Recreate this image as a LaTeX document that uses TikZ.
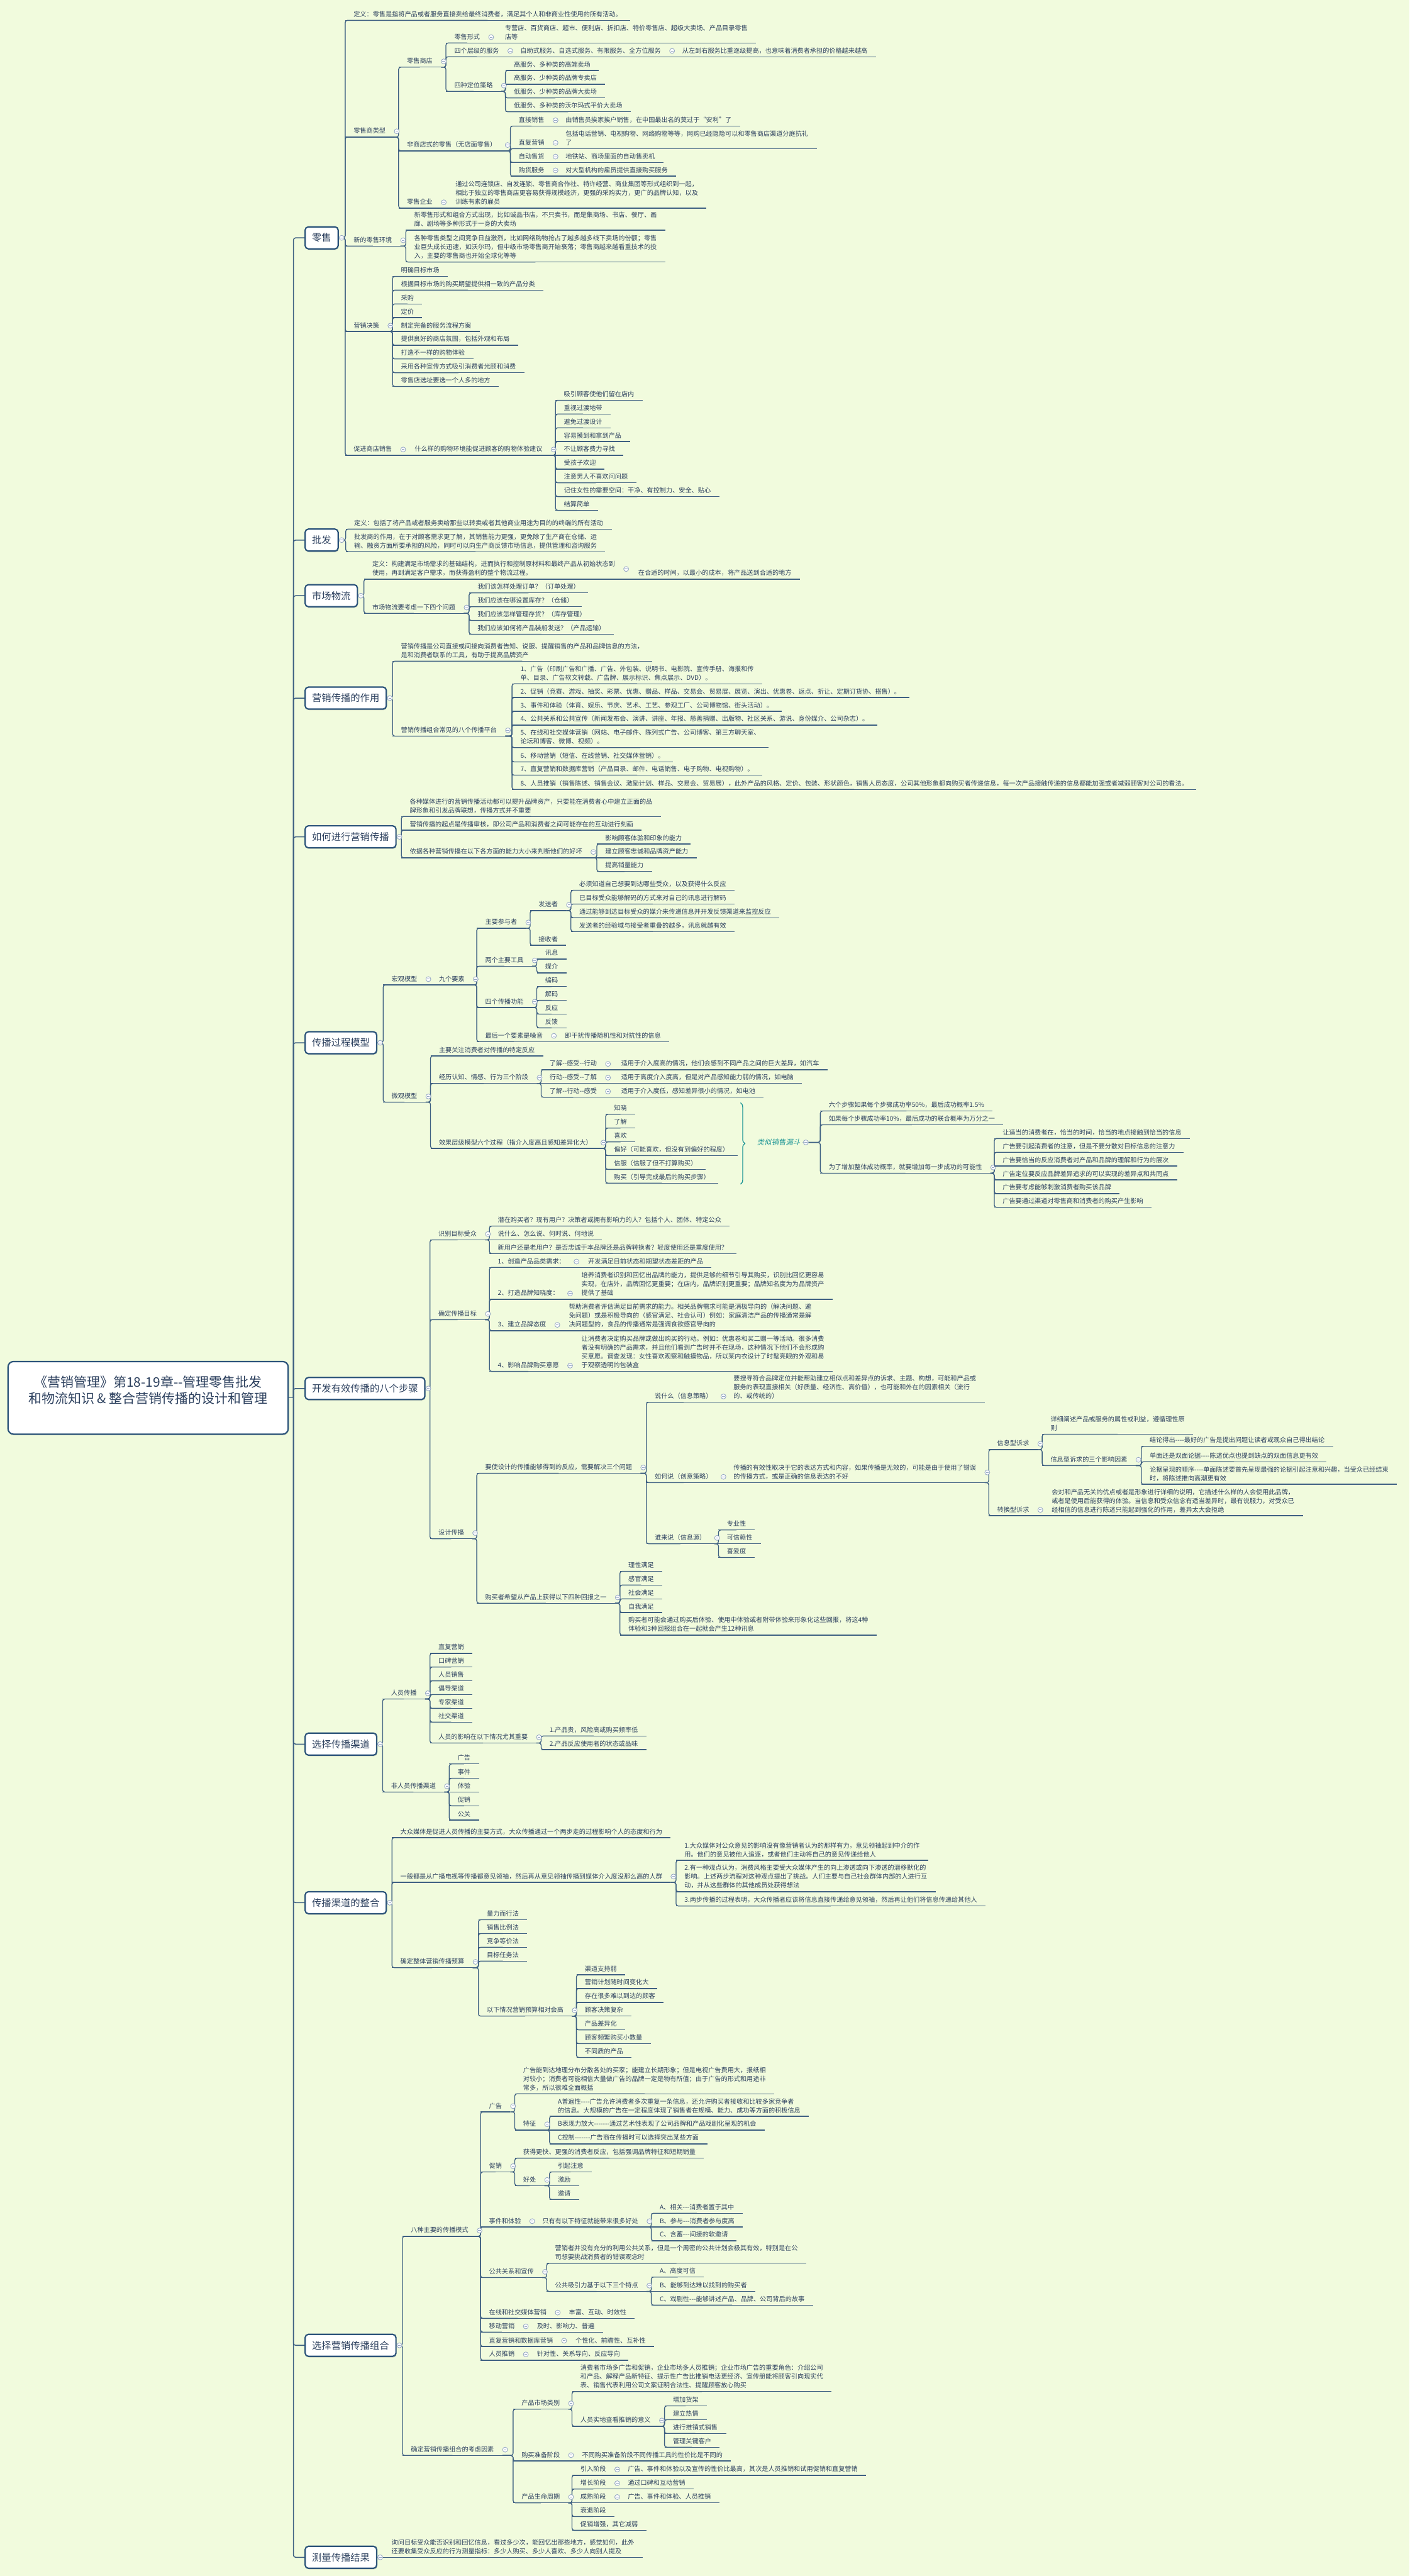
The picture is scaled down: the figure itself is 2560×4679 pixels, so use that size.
\documentclass[tikz,border=0pt]{standalone}
\usepackage{fontspec}
\usepackage{tikz}
\usetikzlibrary{backgrounds,decorations.pathreplacing,shadows}
\newfontfamily\cjk{Noto Sans CJK SC}
\newfontfamily\cjkslant{Noto Sans CJK SC}[FakeSlant=0.2]
\newcommand\itemfont{\cjk\fontsize{6.6pt}{9.1pt}\selectfont}
\newcommand\boxfont{\cjk\fontsize{9.96pt}{12pt}\selectfont}
\newcommand\rootfont{\cjk\fontsize{13.66pt}{17.07pt}\selectfont}
\newcommand\fnlfont{\cjkslant\fontsize{7.4pt}{9pt}\selectfont}
\definecolor{MapBg}{RGB}{241,251,221}
\definecolor{MapInk}{RGB}{45,65,95}
\definecolor{MapLine}{RGB}{62,96,130}
\definecolor{MapBox}{RGB}{44,84,122}
\definecolor{MapIcon}{RGB}{150,168,196}
\definecolor{MapTeal}{RGB}{30,150,150}

\begin{document}
\begin{tikzpicture}[x=0.02cm,y=-0.02cm,
    ul/.style={draw=MapLine,line width=0.03cm},
    item/.style={anchor=south west,inner xsep=0.3cm,inner ysep=0.08cm,text depth=0.05cm,font=\itemfont,text=MapInk,align=left,
      append after command={(\tikzlastnode.south west) edge[ul] (\tikzlastnode.south east)}},
    dot/.style={circle,draw=MapIcon,fill=white,line width=0.02cm,inner sep=0pt,minimum size=0.18cm,
      path picture={\draw[MapIcon,line width=0.02cm] ([xshift=0.04cm]path picture bounding box.west) -- ([xshift=-0.04cm]path picture bounding box.east);}},
    hub/.style={item,label distance=-0.1cm,label={[dot]0:{}}},
    box/.style={anchor=west,draw=MapBox,line width=0.05cm,fill=white,rounded corners=0.12cm,font=\boxfont,text=MapInk,inner xsep=0.25cm,minimum height=0.8cm,
      drop shadow={opacity=0.3,shadow xshift=0.02cm,shadow yshift=-0.04cm},label distance=0.06cm,label={[dot]0:{}}},
    root/.style={draw=MapBox,line width=0.05cm,fill=white,rounded corners=0.2cm,font=\rootfont,text=MapInk,align=center,minimum width=10.18cm,minimum height=2.64cm,
      drop shadow={opacity=0.3,shadow xshift=0.02cm,shadow yshift=-0.04cm}},
    fnl/.style={anchor=west,font=\fnlfont,text=MapTeal,inner xsep=0.1cm,label distance=0.1cm,label={[dot]0:{}}},
    funnel/.style={draw=MapTeal,line width=0.03cm,decorate,decoration={brace,amplitude=0.16cm}},
    link/.style={draw=MapLine,line width=0.03cm,rounded corners=0.08cm,to path={(\tikztostart.south east) -| (\tikztotarget.south west) -- (\tikztotarget.south)}},
    flat/.style={draw=MapLine,line width=0.03cm,to path={(\tikztostart.south east) -- (\tikztotarget.south west)}},
    blink/.style={link,to path={(\tikztostart.east) -| (\tikztotarget.south west) -- (\tikztotarget.south)}},
    bflat/.style={flat,to path={(\tikztostart.east) -- (\tikztotarget.south west)}},
    tk/.style={draw=MapLine,line width=0.035cm,rounded corners=0.08cm,to path={(\tikztostart) |- (\tikztotarget.west)}}
  ]
  \useasboundingbox (0,0) rectangle (2560,4679);
  \begin{scope}[on background layer]
    \fill[MapBg] (0,0) rectangle (2560,4679);
  \end{scope}

  \node[root] (root) at (269,2539) {《营销管理》第18-19章--管理零售批发\\和物流知识 \& 整合营销传播的设计和管理\\\mbox{}};
  \coordinate (trunk) at (533,2539);

  \node[box] (r) at (553,432) {零售};
  \node[item] (r1) at (627,37) {定义：零售是指将产品或者服务直接卖给最终消费者，满足其个人和非商业性使用的所有活动。};
  \node[hub] (r2) at (627,249) {零售商类型};
  \node[hub] (r3) at (627,447) {新的零售环境};
  \node[hub] (r4) at (627,602) {营销决策};
  \node[hub] (r5) at (627,827) {促进商店销售};
  \node[hub] (r21) at (724,122) {零售商店};
  \node[hub] (r22) at (724,274) {非商店式的零售（无店面零售）};
  \node[hub] (r23) at (724,378) {零售企业};
  \node[hub] (r211) at (810,78) {零售形式};
  \node[hub] (r212) at (810,103) {四个层级的服务};
  \node[hub] (r213) at (810,166) {四种定位策略};
  \node[item] (r2111) at (902,78) {专营店、百货商店、超市、便利店、折扣店、特价零售店、超级大卖场、产品目录零售\\店等};
  \node[hub] (r2121) at (930,103) {自助式服务、自选式服务、有限服务、全方位服务};
  \node[item] (r2122) at (1224,103) {从左到右服务比重逐级提高，也意味着消费者承担的价格越来越高};
  \node[item] (r2131) at (918,128) {高服务、多种类的高端卖场};
  \node[item] (r2132) at (918,153) {高服务、少种类的品牌专卖店};
  \node[item] (r2133) at (918,178) {低服务、少种类的品牌大卖场};
  \node[item] (r2134) at (918,203) {低服务、多种类的沃尔玛式平价大卖场};
  \node[hub] (r221) at (927,229) {直接销售};
  \node[hub] (r222) at (927,270) {直复营销};
  \node[hub] (r223) at (927,295) {自动售货};
  \node[hub] (r224) at (927,320) {购货服务};
  \node[item] (r2211) at (1012,229) {由销售员挨家挨户销售，在中国最出名的莫过于“安利”了};
  \node[item] (r2221) at (1012,270) {包括电话营销、电视购物、网络购物等等，网购已经隐隐可以和零售商店渠道分庭抗礼\\了};
  \node[item] (r2231) at (1012,295) {地铁站、商场里面的自动售卖机};
  \node[item] (r2241) at (1012,320) {对大型机构的雇员提供直接购买服务};
  \node[item] (r231) at (812,378) {通过公司连锁店、自发连锁、零售商合作社、特许经营、商业集团等形式组织到一起，\\相比于独立的零售商店更容易获得规模经济，更强的采购实力，更广的品牌认知，以及\\训练有素的雇员};
  \node[item] (r31) at (737,418) {新零售形式和组合方式出现，比如诚品书店，不只卖书，而是集商场、书店、餐厅、画\\廊、剧场等多种形式于一身的大卖场};
  \node[item] (r32) at (737,476) {各种零售类型之间竞争日益激烈，比如网络购物抢占了越多越多线下卖场的份额；零售\\业巨头成长迅速，如沃尔玛，但中级市场零售商开始衰落；零售商越来越看重技术的投\\入，主要的零售商也开始全球化等等};
  \node[item] (r41) at (713,502) {明确目标市场};
  \node[item] (r42) at (713,527) {根据目标市场的购买期望提供相一致的产品分类};
  \node[item] (r43) at (713,552) {采购};
  \node[item] (r44) at (713,577) {定价};
  \node[item] (r45) at (713,602) {制定完备的服务流程方案};
  \node[item] (r46) at (713,627) {提供良好的商店氛围，包括外观和布局};
  \node[item] (r47) at (713,652) {打造不一样的购物体验};
  \node[item] (r48) at (713,677) {采用各种宣传方式吸引消费者光顾和消费};
  \node[item] (r49) at (713,702) {零售店选址要选一个人多的地方};
  \node[hub] (r51) at (738,827) {什么样的购物环境能促进顾客的购物体验建议};
  \node[item] (r511) at (1009,727) {吸引顾客使他们留在店内};
  \node[item] (r512) at (1009,752) {重视过渡地带};
  \node[item] (r513) at (1009,777) {避免过渡设计};
  \node[item] (r514) at (1009,802) {容易摸到和拿到产品};
  \node[item] (r515) at (1009,827) {不让顾客费力寻找};
  \node[item] (r516) at (1009,852) {受孩子欢迎};
  \node[item] (r517) at (1009,877) {注意男人不喜欢问问题};
  \node[item] (r518) at (1009,902) {记住女性的需要空间：干净、有控制力、安全、贴心};
  \node[item] (r519) at (1009,927) {结算简单};

  \node[box] (w) at (553,981) {批发};
  \node[item] (w1) at (628,961) {定义：包括了将产品或者服务卖给那些以转卖或者其他商业用途为目的的终端的所有活动};
  \node[item] (w2) at (628,1002) {批发商的作用，在于对顾客需求更了解，其销售能力更强，更免除了生产商在仓储、运\\输、融资方面所要承担的风险，同时可以向生产商反馈市场信息，提供管理和咨询服务};

  \node[box] (m) at (553,1082) {市场物流};
  \node[hub] (m1) at (661,1052) {定义：构建满足市场需求的基础结构，进而执行和控制原材料和最终产品从初始状态到\\使用，再到满足客户需求，而获得盈利的整个物流过程。};
  \node[item] (m11) at (1144,1052) {在合适的时间，以最小的成本，将产品送到合适的地方};
  \node[hub] (m2) at (661,1114) {市场物流要考虑一下四个问题};
  \node[item] (m21) at (852,1077) {我们该怎样处理订单？（订单处理）};
  \node[item] (m22) at (852,1102) {我们应该在哪设置库存？（仓储）};
  \node[item] (m23) at (852,1127) {我们应该怎样管理存货？（库存管理）};
  \node[item] (m24) at (852,1152) {我们应该如何将产品装船发送？（产品运输）};

  \node[box] (e) at (553,1268) {营销传播的作用};
  \node[item] (e1) at (713,1201) {营销传播是公司直接或间接向消费者告知、说服、提醒销售的产品和品牌信息的方法，\\是和消费者联系的工具，有助于提高品牌资产};
  \node[hub] (e2) at (713,1337) {营销传播组合常见的八个传播平台};
  \node[item] (e21) at (930,1242) {1、广告（印刷广告和广播、广告、外包装、说明书、电影院、宣传手册、海报和传\\单、目录、广告软文转载、广告牌、展示标识、焦点展示、DVD）。};
  \node[item] (e22) at (930,1267) {2、促销（竞赛、游戏、抽奖、彩票、优惠、赠品、样品、交易会、贸易展、展览、演出、优惠卷、返点、折让、定期订货协、搭售）。};
  \node[item] (e23) at (930,1292) {3、事件和体验（体育、娱乐、节庆、艺术、工艺、参观工厂、公司博物馆、街头活动）。};
  \node[item] (e24) at (930,1317) {4、公共关系和公共宣传（新闻发布会、演讲、讲座、年报、慈善捐赠、出版物、社区关系、游说、身份媒介、公司杂志）。};
  \node[item] (e25) at (930,1358) {5、在线和社交媒体营销（网站、电子邮件、陈列式广告、公司博客、第三方聊天室、\\论坛和博客、微博、视频）。};
  \node[item] (e26) at (930,1384) {6、移动营销（短信、在线营销、社交媒体营销）。};
  \node[item] (e27) at (930,1408) {7、直复营销和数据库营销（产品目录、邮件、电话销售、电子购物、电视购物）。};
  \node[item] (e28) at (930,1434) {8、人员推销（销售陈述、销售会议、激励计划、样品、交易会、贸易展），此外产品的风格、定价、包装、形状颜色，销售人员态度，公司其他形象都向购买者传递信息，每一次产品接触传递的信息都能加强或者减弱顾客对公司的看法。};

  \node[box] (h) at (553,1520) {如何进行营销传播};
  \node[item] (h1) at (729,1483) {各种媒体进行的营销传播活动都可以提升品牌资产，只要能在消费者心中建立正面的品\\牌形象和引发品牌联想，传播方式并不重要};
  \node[item] (h2) at (729,1508) {营销传播的起点是传播审核，即公司产品和消费者之间可能存在的互动进行刻画};
  \node[hub] (h3) at (729,1558) {依据各种营销传播在以下各方面的能力大小来判断他们的好坏};
  \node[item] (h31) at (1084,1533) {影响顾客体验和印象的能力};
  \node[item] (h32) at (1084,1558) {建立顾客忠诚和品牌资产能力};
  \node[item] (h33) at (1084,1583) {提高销量能力};

  \node[box] (p) at (553,1894) {传播过程模型};
  \node[hub] (p1) at (696,1789) {宏观模型};
  \node[hub] (p11) at (782,1789) {九个要素};
  \node[hub] (p111) at (866,1686) {主要参与者};
  \node[hub] (p1111) at (963,1654) {发送者};
  \node[item] (p11111) at (1037,1617) {必须知道自己想要到达哪些受众，以及获得什么反应};
  \node[item] (p11112) at (1037,1642) {已目标受众能够解码的方式来对自己的讯息进行解码};
  \node[item] (p11113) at (1037,1667) {通过能够到达目标受众的媒介来传递信息并开发反馈渠道来监控反应};
  \node[item] (p11114) at (1037,1692) {发送者的经验域与接受者重叠的越多，讯息就越有效};
  \node[item] (p1112) at (963,1717) {接收者};
  \node[hub] (p112) at (866,1755) {两个主要工具};
  \node[item] (p1121) at (975,1742) {讯息};
  \node[item] (p1122) at (975,1767) {媒介};
  \node[hub] (p113) at (866,1830) {四个传播功能};
  \node[item] (p1131) at (975,1792) {编码};
  \node[item] (p1132) at (975,1817) {解码};
  \node[item] (p1133) at (975,1842) {反应};
  \node[item] (p1134) at (975,1867) {反馈};
  \node[hub] (p114) at (866,1892) {最后一个要素是噪音};
  \node[item] (p1141) at (1011,1892) {即干扰传播随机性和对抗性的信息};
  \node[hub] (p2) at (696,2002) {微观模型};
  \node[item] (p21) at (782,1918) {主要关注消费者对传播的特定反应};
  \node[hub] (p22) at (782,1968) {经历认知、情感、行为三个阶段};
  \node[hub] (p221) at (983,1943) {了解--感受--行动};
  \node[item] (p2211) at (1113,1943) {适用于介入度高的情况，他们会感到不同产品之间的巨大差异，如汽车};
  \node[hub] (p222) at (983,1968) {行动--感受--了解};
  \node[item] (p2221) at (1113,1968) {适用于高度介入度高，但是对产品感知能力弱的情况，如电脑};
  \node[hub] (p223) at (983,1993) {了解--行动--感受};
  \node[item] (p2231) at (1113,1993) {适用于介入度低，感知差异很小的情况，如电池};
  \node[hub] (p23) at (782,2086) {效果层级模型六个过程（指介入度高且感知差异化大）};
  \node[item] (p231) at (1100,2024) {知晓};
  \node[item] (p232) at (1100,2049) {了解};
  \node[item] (p233) at (1100,2074) {喜欢};
  \node[item] (p234) at (1100,2099) {偏好（可能喜欢，但没有到偏好的程度）};
  \node[item] (p235) at (1100,2124) {信服（信服了但不打算购买）};
  \node[item] (p236) at (1100,2149) {购买（引导完成最后的购买步骤）};
  \coordinate (fun1) at (1345,2003);
  \coordinate (fun2) at (1345,2151);
  \draw[funnel] (fun1) -- (fun2);
  \node[fnl] (pf) at (1370,2075) {类似销售漏斗};
  \node[item] (pf1) at (1490,2018) {六个步骤如果每个步骤成功率50\%，最后成功概率1.5\%};
  \node[item] (pf2) at (1490,2043) {如果每个步骤成功率10\%，最后成功的联合概率为万分之一};
  \node[hub] (pf3) at (1490,2131) {为了增加整体成功概率，就要增加每一步成功的可能性};
  \node[item] (pf31) at (1806,2068) {让适当的消费者在，恰当的时间，恰当的地点接触到恰当的信息};
  \node[item] (pf32) at (1806,2093) {广告要引起消费者的注意，但是不要分散对目标信息的注意力};
  \node[item] (pf33) at (1806,2118) {广告要恰当的反应消费者对产品和品牌的理解和行为的层次};
  \node[item] (pf34) at (1806,2143) {广告定位要反应品牌差异追求的可以实现的差异点和共同点};
  \node[item] (pf35) at (1806,2168) {广告要考虑能够刺激消费者购买该品牌};
  \node[item] (pf36) at (1806,2193) {广告要通过渠道对零售商和消费者的购买产生影响};

  \node[box] (d) at (553,2522) {开发有效传播的八个步骤};
  \node[hub] (d1) at (781,2252) {识别目标受众};
  \node[item] (d11) at (889,2227) {潜在购买者？现有用户？决策者或拥有影响力的人？包括个人、团体、特定公众};
  \node[item] (d12) at (889,2252) {说什么、怎么说、何时说、何地说};
  \node[item] (d13) at (889,2277) {新用户还是老用户？是否忠诚于本品牌还是品牌转换者？轻度使用还是重度使用？};
  \node[hub] (d2) at (781,2397) {确定传播目标};
  \node[hub] (d21) at (889,2302) {1、创造产品品类需求：};
  \node[item] (d211) at (1053,2302) {开发满足目前状态和期望状态差距的产品};
  \node[hub] (d22) at (889,2360) {2、打造品牌知晓度：};
  \node[item] (d221) at (1041,2360) {培养消费者识别和回忆出品牌的能力，提供足够的细节引导其购买，识别比回忆更容易\\实现，在店外，品牌回忆更重要；在店内，品牌识别更重要；品牌知名度为为品牌资产\\提供了基础};
  \node[hub] (d23) at (889,2417) {3、建立品牌态度};
  \node[item] (d231) at (1018,2417) {帮助消费者评估满足目前需求的能力。相关品牌需求可能是消极导向的（解决问题、避\\免问题）或是积极导向的（感官满足、社会认可）例如：家庭清洁产品的传播通常是解\\决问题型的，食品的传播通常是强调食欲感官导向的};
  \node[hub] (d24) at (889,2491) {4、影响品牌购买意愿};
  \node[item] (d241) at (1041,2491) {让消费者决定购买品牌或做出购买的行动。例如：优惠卷和买二赠一等活动。很多消费\\者没有明确的产品需求，并且他们看到广告时并不在现场，这种情况下他们不会形成购\\买意愿。调查发现：女性喜欢观察和触摸物品，所以某内衣设计了时髦亮眼的外观和易\\于观察透明的包装盒};
  \node[hub] (d3) at (781,2795) {设计传播};
  \node[hub] (d31) at (866,2676) {要使设计的传播能够得到的反应，需要解决三个问题};
  \node[hub] (d311) at (1174,2547) {说什么（信息策略）};
  \node[item] (d3111) at (1317,2547) {要搜寻符合品牌定位并能帮助建立相似点和差异点的诉求、主题、构想，可能和产品或\\服务的表现直接相关（好质量、经济性、高价值），也可能和外在的因素相关（流行\\的、或传统的）};
  \node[hub] (d312) at (1174,2693) {如何说（创意策略）};
  \node[hub] (d3121) at (1317,2693) {传播的有效性取决于它的表达方式和内容，如果传播是无效的，可能是由于使用了错误\\的传播方式，或是正确的信息表达的不好};
  \node[hub] (d31211) at (1796,2633) {信息型诉求};
  \node[item] (d312111) at (1893,2605) {详细阐述产品或服务的属性或利益，遵循理性原\\则};
  \node[hub] (d312112) at (1893,2662) {信息型诉求的三个影响因素};
  \node[item] (d3121121) at (2073,2627) {结论得出----最好的广告是提出问题让读者或观众自己得出结论};
  \node[item] (d3121122) at (2073,2655) {单面还是双面论据----陈述优点也提到缺点的双面信息更有效};
  \node[item] (d3121123) at (2073,2696) {论据呈现的顺序----单面陈述要首先呈现最强的论据引起注意和兴趣，当受众已经结束\\时，将陈述推向高潮更有效};
  \node[hub] (d31212) at (1796,2753) {转换型诉求};
  \node[item] (d312121) at (1895,2753) {会对和产品无关的优点或者是形象进行详细的说明，它描述什么样的人会使用此品牌，\\或者是使用后能获得的体验。当信息和受众信念有适当差异时，最有说服力，对受众已\\经相信的信息进行陈述只能起到强化的作用，差异太大会拒绝};
  \node[hub] (d313) at (1174,2804) {谁来说（信息源）};
  \node[item] (d3131) at (1305,2779) {专业性};
  \node[item] (d3132) at (1305,2804) {可信赖性};
  \node[item] (d3133) at (1305,2829) {喜爱度};
  \node[hub] (d32) at (866,2912) {购买者希望从产品上获得以下四种回报之一};
  \node[item] (d321) at (1126,2854) {理性满足};
  \node[item] (d322) at (1126,2879) {感官满足};
  \node[item] (d323) at (1126,2904) {社会满足};
  \node[item] (d324) at (1126,2929) {自我满足};
  \node[item] (d325) at (1126,2970) {购买者可能会通过购买后体验、使用中体验或者附带体验来形象化这些回报，将这4种\\体验和3种回报组合在一起就会产生12种讯息};

  \node[box] (c) at (553,3168) {选择传播渠道};
  \node[hub] (c1) at (695,3086) {人员传播};
  \node[item] (c11) at (781,3003) {直复营销};
  \node[item] (c12) at (781,3028) {口碑营销};
  \node[item] (c13) at (781,3053) {人员销售};
  \node[item] (c14) at (781,3078) {倡导渠道};
  \node[item] (c15) at (781,3103) {专家渠道};
  \node[item] (c16) at (781,3128) {社交渠道};
  \node[hub] (c17) at (781,3166) {人员的影响在以下情况尤其重要};
  \node[item] (c171) at (983,3153) {1.产品贵，风险高或购买频率低};
  \node[item] (c172) at (983,3178) {2.产品反应使用者的状态或品味};
  \node[hub] (c2) at (695,3255) {非人员传播渠道};
  \node[item] (c21) at (816,3204) {广告};
  \node[item] (c22) at (816,3230) {事件};
  \node[item] (c23) at (816,3255) {体验};
  \node[item] (c24) at (816,3280) {促销};
  \node[item] (c25) at (816,3306) {公关};

  \node[box] (g) at (553,3456) {传播渠道的整合};
  \node[item] (g1) at (712,3338) {大众媒体是促进人员传播的主要方式，大众传播通过一个两步走的过程影响个人的态度和行为};
  \node[hub] (g2) at (712,3419) {一般都是从广播电视等传播都意见领袖，然后再从意见领袖传播到媒体介入度没那么高的人群};
  \node[item] (g21) at (1228,3379) {1.大众媒体对公众意见的影响没有像营销者认为的那样有力，意见领袖起到中介的作\\用。他们的意见被他人追逐，或者他们主动将自己的意见传递给他人};
  \node[item] (g22) at (1228,3436) {2.有一种观点认为，消费风格主要受大众媒体产生的向上渗透或向下渗透的潜移默化的\\影响。上述两步流程对这种观点提出了挑战。人们主要与自己社会群体内部的人进行互\\动，并从这些群体的其他成员处获得想法};
  \node[item] (g23) at (1228,3462) {3.两步传播的过程表明，大众传播者应该将信息直接传递给意见领袖，然后再让他们将信息传递给其他人};
  \node[hub] (g3) at (712,3574) {确定整体营销传播预算};
  \node[item] (g31) at (869,3487) {量力而行法};
  \node[item] (g32) at (869,3512) {销售比例法};
  \node[item] (g33) at (869,3537) {竞争等价法};
  \node[item] (g34) at (869,3562) {目标任务法};
  \node[hub] (g35) at (869,3662) {以下情况营销预算相对会高};
  \node[item] (g351) at (1047,3587) {渠道支持弱};
  \node[item] (g352) at (1047,3612) {营销计划随时间变化大};
  \node[item] (g353) at (1047,3637) {存在很多难以到达的顾客};
  \node[item] (g354) at (1047,3662) {顾客决策复杂};
  \node[item] (g355) at (1047,3687) {产品差异化};
  \node[item] (g356) at (1047,3712) {顾客频繁购买小数量};
  \node[item] (g357) at (1047,3737) {不同质的产品};

  \node[box] (z) at (553,4260) {选择营销传播组合};
  \node[hub] (z1) at (731,4062) {八种主要的传播模式};
  \node[hub] (z11) at (873,3836) {广告};
  \node[item] (z111) at (935,3803) {广告能到达地理分布分散各处的买家；能建立长期形象；但是电视广告费用大，报纸相\\对较小；消费者可能相信大量做广告的品牌一定是物有所值；由于广告的形式和用途非\\常多，所以很难全面概括};
  \node[hub] (z112) at (935,3869) {特征};
  \node[item] (z1121) at (998,3844) {A普遍性----广告允许消费者多次重复一条信息，还允许购买者接收和比较多家竞争者\\的信息。大规模的广告在一定程度体现了销售者在规模、能力、成功等方面的积极信息};
  \node[item] (z1122) at (998,3869) {B表现力放大-------通过艺术性表现了公司品牌和产品戏剧化呈现的机会};
  \node[item] (z1123) at (998,3894) {C控制-------广告商在传播时可以选择突出某些方面};
  \node[hub] (z12) at (873,3945) {促销};
  \node[item] (z121) at (935,3920) {获得更快、更强的消费者反应，包括强调品牌特征和短期销量};
  \node[hub] (z122) at (935,3970) {好处};
  \node[item] (z1221) at (998,3945) {引起注意};
  \node[item] (z1222) at (998,3970) {激励};
  \node[item] (z1223) at (998,3995) {邀请};
  \node[hub] (z13) at (873,4045) {事件和体验};
  \node[hub] (z131) at (970,4045) {只有有以下特征就能带来很多好处};
  \node[item] (z1311) at (1183,4020) {A、相关---消费者置于其中};
  \node[item] (z1312) at (1183,4045) {B、参与---消费者参与度高};
  \node[item] (z1313) at (1183,4070) {C、含蓄---间接的软邀请};
  \node[hub] (z14) at (873,4137) {公共关系和宣传};
  \node[item] (z141) at (993,4111) {营销者并没有充分的利用公共关系，但是一个周密的公共计划会极其有效，特别是在公\\司想要挑战消费者的错误观念时};
  \node[hub] (z142) at (993,4162) {公共吸引力基于以下三个特点};
  \node[item] (z1421) at (1183,4136) {A、高度可信};
  \node[item] (z1422) at (1183,4162) {B、能够到达难以找到的购买者};
  \node[item] (z1423) at (1183,4187) {C、戏剧性---能够讲述产品、品牌、公司背后的故事};
  \node[hub] (z15) at (873,4211) {在线和社交媒体营销};
  \node[item] (z151) at (1018,4211) {丰富、互动、时效性};
  \node[hub] (z16) at (873,4236) {移动营销};
  \node[item] (z161) at (960,4236) {及时、影响力、普遍};
  \node[hub] (z17) at (873,4262) {直复营销和数据库营销};
  \node[item] (z171) at (1030,4262) {个性化、前瞻性、互补性};
  \node[hub] (z18) at (873,4287) {人员推销};
  \node[item] (z181) at (960,4287) {针对性、关系导向、反应导向};
  \node[hub] (z2) at (731,4460) {确定营销传播组合的考虑因素};
  \node[hub] (z21) at (932,4376) {产品市场类别};
  \node[item] (z211) at (1039,4344) {消费者市场多广告和促销，企业市场多人员推销；企业市场广告的重要角色：介绍公司\\和产品、解释产品新特征、提示性广告比推销电话更经济、宣传册能将顾客引向现实代\\表、销售代表利用公司文案证明合法性、提醒顾客放心购买};
  \node[hub] (z212) at (1039,4407) {人员实地查看推销的意义};
  \node[item] (z2121) at (1207,4370) {增加货架};
  \node[item] (z2122) at (1207,4395) {建立热情};
  \node[item] (z2123) at (1207,4420) {进行推销式销售};
  \node[item] (z2124) at (1207,4445) {管理关键客户};
  \node[hub] (z22) at (932,4470) {购买准备阶段};
  \node[item] (z221) at (1042,4470) {不同购买准备阶段不同传播工具的性价比是不同的};
  \node[hub] (z23) at (932,4546) {产品生命周期};
  \node[hub] (z231) at (1039,4496) {引入阶段};
  \node[item] (z2311) at (1125,4496) {广告、事件和体验以及宣传的性价比最高，其次是人员推销和试用促销和直复营销};
  \node[hub] (z232) at (1039,4521) {增长阶段};
  \node[item] (z2321) at (1125,4521) {通过口碑和互动营销};
  \node[hub] (z233) at (1039,4546) {成熟阶段};
  \node[item] (z2331) at (1125,4546) {广告、事件和体验、人员推销};
  \node[item] (z234) at (1039,4571) {衰退阶段};
  \node[item] (z235) at (1039,4596) {促销增强，其它减弱};

  \node[box] (q) at (553,4645) {测量传播结果};
  \node[item] (q1) at (696,4645) {询问目标受众能否识别和回忆信息，看过多少次，能回忆出那些地方，感觉如何，此外\\还要收集受众反应的行为测量指标：多少人购买、多少人喜欢、多少人向别人提及};

  \begin{scope}[on background layer]
    \draw[ul,line width=0.035cm] (root.east) -- (trunk);
    \path (trunk) edge[tk] (r) edge[tk] (w) edge[tk] (m) edge[tk] (e) edge[tk] (h) edge[tk] (p)
      edge[tk] (d) edge[tk] (c) edge[tk] (g) edge[tk] (z) edge[tk] (q);
    \path (r) edge[blink] (r1) edge[blink] (r2) edge[blink] (r3) edge[blink] (r4) edge[blink] (r5);
    \path (r2) edge[link] (r21) edge[link] (r22) edge[link] (r23);
    \path (r21) edge[link] (r211) edge[link] (r212) edge[link] (r213);
    \path (r211) edge[flat] (r2111);
    \path (r212) edge[flat] (r2121);
    \path (r2121) edge[flat] (r2122);
    \path (r213) edge[link] (r2131) edge[link] (r2132) edge[link] (r2133) edge[link] (r2134);
    \path (r22) edge[link] (r221) edge[link] (r222) edge[link] (r223) edge[link] (r224);
    \path (r221) edge[flat] (r2211);
    \path (r222) edge[flat] (r2221);
    \path (r223) edge[flat] (r2231);
    \path (r224) edge[flat] (r2241);
    \path (r23) edge[flat] (r231);
    \path (r3) edge[link] (r31) edge[link] (r32);
    \path (r4) edge[link] (r41) edge[link] (r42) edge[link] (r43) edge[link] (r44) edge[flat] (r45)
      edge[link] (r46) edge[link] (r47) edge[link] (r48) edge[link] (r49);
    \path (r5) edge[flat] (r51);
    \path (r51) edge[link] (r511) edge[link] (r512) edge[link] (r513) edge[link] (r514) edge[flat] (r515)
      edge[link] (r516) edge[link] (r517) edge[link] (r518) edge[link] (r519);
    \path (w) edge[blink] (w1) edge[blink] (w2);
    \path (m) edge[blink] (m1) edge[blink] (m2);
    \path (m1) edge[flat] (m11);
    \path (m2) edge[link] (m21) edge[link] (m22) edge[link] (m23) edge[link] (m24);
    \path (e) edge[blink] (e1) edge[blink] (e2);
    \path (e2) edge[link] (e21) edge[link] (e22) edge[link] (e23) edge[link] (e24)
      edge[link] (e25) edge[link] (e26) edge[link] (e27) edge[link] (e28);
    \path (h) edge[blink] (h1) edge[blink] (h2) edge[blink] (h3);
    \path (h3) edge[link] (h31) edge[flat] (h32) edge[link] (h33);
    \path (p) edge[blink] (p1) edge[blink] (p2);
    \path (p1) edge[flat] (p11);
    \path (p11) edge[link] (p111) edge[link] (p112) edge[link] (p113) edge[link] (p114);
    \path (p111) edge[link] (p1111) edge[link] (p1112);
    \path (p1111) edge[link] (p11111) edge[link] (p11112) edge[link] (p11113) edge[link] (p11114);
    \path (p112) edge[link] (p1121) edge[link] (p1122);
    \path (p113) edge[link] (p1131) edge[link] (p1132) edge[link] (p1133) edge[link] (p1134);
    \path (p114) edge[flat] (p1141);
    \path (p2) edge[link] (p21) edge[link] (p22) edge[link] (p23);
    \path (p22) edge[link] (p221) edge[flat] (p222) edge[link] (p223);
    \path (p221) edge[flat] (p2211);
    \path (p222) edge[flat] (p2221);
    \path (p223) edge[flat] (p2231);
    \path (p23) edge[link] (p231) edge[link] (p232) edge[link] (p233) edge[link] (p234) edge[link] (p235) edge[link] (p236);
    \path (pf) edge[blink] (pf1) edge[blink] (pf2) edge[blink] (pf3);
    \path (pf3) edge[link] (pf31) edge[link] (pf32) edge[link] (pf33) edge[link] (pf34) edge[link] (pf35) edge[link] (pf36);
    \path (d) edge[blink] (d1) edge[blink] (d2) edge[blink] (d3);
    \path (d1) edge[link] (d11) edge[flat] (d12) edge[link] (d13);
    \path (d2) edge[link] (d21) edge[link] (d22) edge[link] (d23) edge[link] (d24);
    \path (d21) edge[flat] (d211);
    \path (d22) edge[flat] (d221);
    \path (d23) edge[flat] (d231);
    \path (d24) edge[flat] (d241);
    \path (d3) edge[link] (d31) edge[link] (d32);
    \path (d31) edge[link] (d311) edge[link] (d312) edge[link] (d313);
    \path (d311) edge[flat] (d3111);
    \path (d312) edge[flat] (d3121);
    \path (d3121) edge[link] (d31211) edge[link] (d31212);
    \path (d31211) edge[link] (d312111) edge[link] (d312112);
    \path (d312112) edge[link] (d3121121) edge[link] (d3121122) edge[link] (d3121123);
    \path (d31212) edge[flat] (d312121);
    \path (d313) edge[link] (d3131) edge[flat] (d3132) edge[link] (d3133);
    \path (d32) edge[link] (d321) edge[link] (d322) edge[link] (d323) edge[link] (d324) edge[link] (d325);
    \path (c) edge[blink] (c1) edge[blink] (c2);
    \path (c1) edge[link] (c11) edge[link] (c12) edge[link] (c13) edge[link] (c14) edge[link] (c15) edge[link] (c16) edge[link] (c17);
    \path (c17) edge[link] (c171) edge[link] (c172);
    \path (c2) edge[link] (c21) edge[link] (c22) edge[flat] (c23) edge[link] (c24) edge[link] (c25);
    \path (g) edge[blink] (g1) edge[blink] (g2) edge[blink] (g3);
    \path (g2) edge[link] (g21) edge[link] (g22) edge[link] (g23);
    \path (g3) edge[link] (g31) edge[link] (g32) edge[link] (g33) edge[link] (g34) edge[link] (g35);
    \path (g35) edge[link] (g351) edge[link] (g352) edge[link] (g353) edge[flat] (g354) edge[link] (g355) edge[link] (g356) edge[link] (g357);
    \path (z) edge[blink] (z1) edge[blink] (z2);
    \path (z1) edge[link] (z11) edge[link] (z12) edge[link] (z13) edge[link] (z14) edge[link] (z15) edge[link] (z16) edge[link] (z17) edge[link] (z18);
    \path (z11) edge[link] (z111) edge[link] (z112);
    \path (z112) edge[link] (z1121) edge[flat] (z1122) edge[link] (z1123);
    \path (z12) edge[link] (z121) edge[link] (z122);
    \path (z122) edge[link] (z1221) edge[flat] (z1222) edge[link] (z1223);
    \path (z13) edge[flat] (z131);
    \path (z131) edge[link] (z1311) edge[flat] (z1312) edge[link] (z1313);
    \path (z14) edge[link] (z141) edge[link] (z142);
    \path (z142) edge[link] (z1421) edge[flat] (z1422) edge[link] (z1423);
    \path (z15) edge[flat] (z151);
    \path (z16) edge[flat] (z161);
    \path (z17) edge[flat] (z171);
    \path (z18) edge[flat] (z181);
    \path (z2) edge[link] (z21) edge[link] (z22) edge[link] (z23);
    \path (z21) edge[link] (z211) edge[link] (z212);
    \path (z212) edge[link] (z2121) edge[link] (z2122) edge[link] (z2123) edge[link] (z2124);
    \path (z22) edge[flat] (z221);
    \path (z23) edge[link] (z231) edge[link] (z232) edge[flat] (z233) edge[link] (z234) edge[link] (z235);
    \path (z231) edge[flat] (z2311);
    \path (z232) edge[flat] (z2321);
    \path (z233) edge[flat] (z2331);
    \path (q) edge[bflat] (q1);
  \end{scope}
\end{tikzpicture}
\end{document}
